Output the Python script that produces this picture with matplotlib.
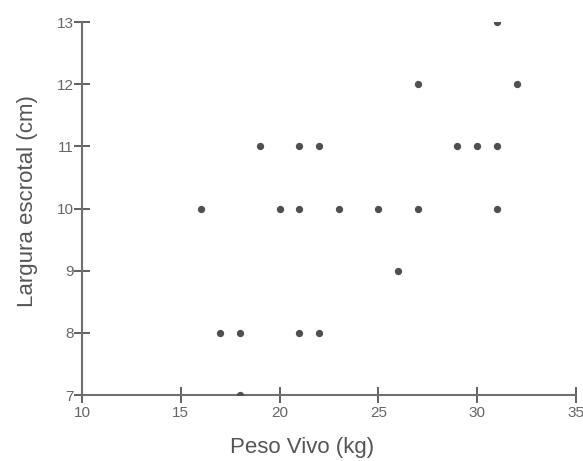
import matplotlib
matplotlib.use("Agg")
import matplotlib.pyplot as plt

plt.rcParams["font.family"] = ["Liberation Sans", "DejaVu Sans"]

peso_vivo = [16, 17, 18, 18, 19, 20, 21, 21, 21, 22, 22, 23, 25, 26, 27, 27, 29, 30, 31, 31, 31, 32]
largura = [10, 8, 8, 7, 11, 10, 11, 10, 8, 11, 8, 10, 10, 9, 12, 10, 11, 11, 13, 11, 10, 12]
x_ticks = [10, 15, 20, 25, 30, 35]
y_ticks = [7, 8, 9, 10, 11, 12, 13]

fig = plt.figure(figsize=(5.83, 4.61), dpi=100)
ax = fig.add_axes([0.1407, 0.143, 0.847, 0.809])

ax.scatter(peso_vivo, largura, s=18, marker="o", color="#505050", zorder=3)

ax.set_xlim(10, 35)
ax.set_ylim(7, 13)
ax.set_xticks(x_ticks)
ax.set_yticks(y_ticks)

for side in ["top", "right"]:
    ax.spines[side].set_visible(False)
for side in ["left", "bottom"]:
    ax.spines[side].set_color("#707070")
    ax.spines[side].set_linewidth(1.5)

ax.tick_params(axis="both", direction="inout", length=12, width=1.3,
               color="#555555", labelcolor="#666666", labelsize=11)
ax.tick_params(axis="x", pad=2)
ax.tick_params(axis="y", pad=0)

ax.set_xlabel("Peso Vivo (kg)", fontsize=16, color="#555555")
ax.set_ylabel("Largura escrotal (cm)", fontsize=16, color="#555555")
# labels in the source sit a little off the axes centre
ax.xaxis.set_label_coords(0.445, -0.112)
ax.yaxis.set_label_coords(-0.09, 0.52)

fig.savefig("out.png", dpi=100)
